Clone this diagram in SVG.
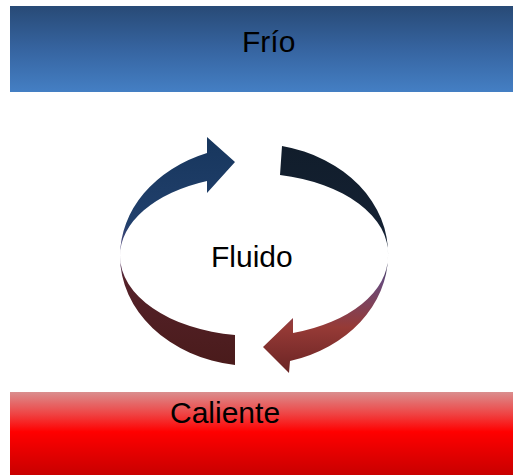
<svg xmlns="http://www.w3.org/2000/svg" width="513" height="475" viewBox="0 0 513 475">
<defs>
<linearGradient id="gCold" x1="0" y1="0" x2="0" y2="1">
<stop offset="0" stop-color="#284a76"/>
<stop offset="0.5" stop-color="#3664a0"/>
<stop offset="1" stop-color="#447fc4"/>
</linearGradient>
<linearGradient id="gHot" x1="0" y1="0" x2="0" y2="1">
<stop offset="0" stop-color="#da8e8e"/>
<stop offset="0.25" stop-color="#ee4848"/>
<stop offset="0.48" stop-color="#ff0000"/>
<stop offset="1" stop-color="#c80000"/>
</linearGradient>
<linearGradient id="gLeft" gradientUnits="userSpaceOnUse" x1="0" y1="137" x2="0" y2="365">
<stop offset="0" stop-color="#17365d"/>
<stop offset="0.38" stop-color="#21406c"/>
<stop offset="0.52" stop-color="#5f4a82"/>
<stop offset="0.62" stop-color="#55222a"/>
<stop offset="1" stop-color="#4a1b1b"/>
</linearGradient>
<linearGradient id="gRight" gradientUnits="userSpaceOnUse" x1="0" y1="145" x2="0" y2="373">
<stop offset="0" stop-color="#111d2b"/>
<stop offset="0.47" stop-color="#152235"/>
<stop offset="0.6" stop-color="#6a4a7a"/>
<stop offset="0.8" stop-color="#963a36"/>
<stop offset="1" stop-color="#6a2424"/>
</linearGradient>
<style>
.lbl{font-family:"Liberation Sans",Arial,sans-serif;font-size:30px;fill:#000}
</style>
</defs>
<g id="frio">
<rect x="10" y="6" width="503" height="86" fill="url(#gCold)"/>
<text class="lbl" x="242" y="52">Frío</text>
</g>
<g id="caliente">
<rect x="10" y="392" width="503" height="83" fill="url(#gHot)"/>
<text class="lbl" x="170" y="423">Caliente</text>
</g>
<g id="connectors">
<path id="arrowLeft" fill="url(#gLeft)" d="M 120 256 A 134 110 0 0 1 207 153 L 207 137 L 235 162 L 207 193 L 207 181 A 134 80 0 0 0 120 256 A 134 80 0 0 0 235 335 L 235 365 A 134 110 0 0 1 120 256 Z"/>
<path id="arrowRight" fill="url(#gRight)" d="M 282 146 A 134 110 0 0 1 388 256 A 134 110 0 0 1 290 361 L 289 373 L 263 347 L 293 318 L 293 333 A 134 80 0 0 0 388 256 A 134 80 0 0 0 280 175 Z"/>
</g>
<g id="fluido">
<text class="lbl" x="211" y="267">Fluido</text>
</g>
</svg>
